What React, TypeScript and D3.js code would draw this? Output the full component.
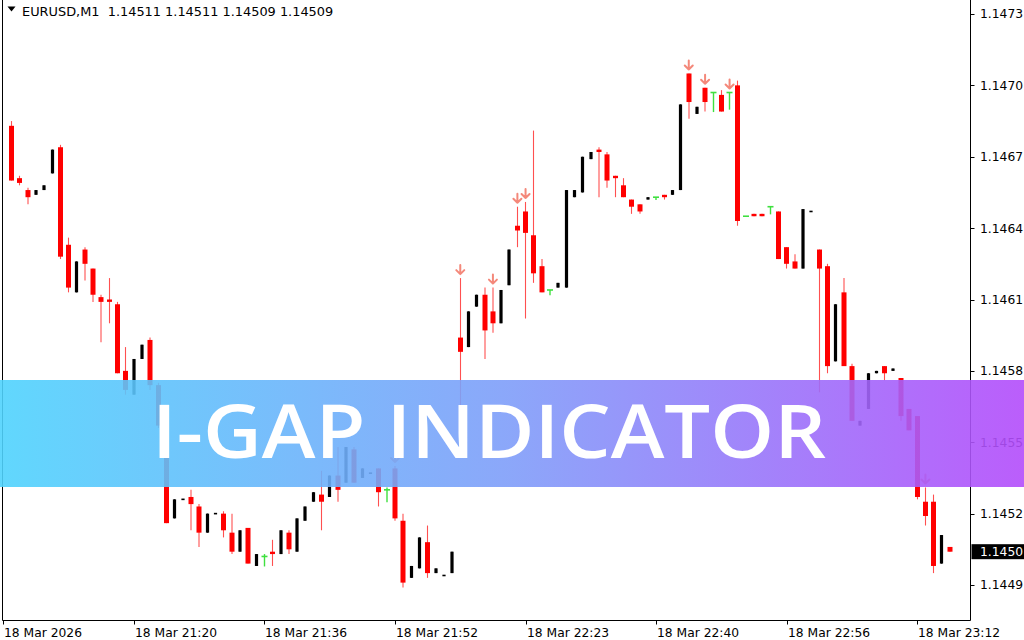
import React from "react";
import * as d3 from "d3";

// ---- data (bars 1..116, M1 EURUSD) ----
const opens = [
  1.14688, 1.14666, 1.14661, 1.14659, 1.14661, 1.14668, 1.14679, 1.14638, 1.14618, 1.14636,
  1.14628, 1.14616, 1.14615, 1.14613, 1.14585, 1.14575, 1.1459, 1.14598, 1.14579, 1.14563,
  1.14523, 1.14531, 1.14532, 1.14528, 1.14517, 1.14525, 1.14525, 1.14517, 1.14509, 1.14519,
  1.14503, 1.14507, 1.14509, 1.14508, 1.14517, 1.14509, 1.14522, 1.1453, 1.14533, 1.14532,
  1.14541, 1.14538, 1.14552, 1.1454, 1.14542, 1.14544, 1.14535, 1.14544, 1.14522, 1.14498,
  1.14502, 1.14513, 1.145, 1.14499, 1.145, 1.14599, 1.14595, 1.14612, 1.14617, 1.1461,
  1.14605, 1.14621, 1.14646, 1.14652, 1.14642, 1.14629, 1.14619, 1.1462, 1.1462, 1.14658,
  1.1466, 1.14674, 1.14678, 1.14676, 1.14667, 1.14663, 1.14657, 1.14655, 1.14657, 1.14658,
  1.14659, 1.14659, 1.14661, 1.1471, 1.14693, 1.14704, 1.14702, 1.14701, 1.14702, 1.14705,
  1.1465, 1.14651, 1.14651, 1.14654, 1.14652, 1.14637, 1.14631, 1.14628, 1.14652, 1.14636,
  1.14629, 1.14589, 1.14618, 1.14587, 1.14562, 1.14569, 1.14584, 1.14587, 1.14585, 1.14582,
  1.14569, 1.14566, 1.1453, 1.1453, 1.14504, 1.14511,
];
const highs = [
  1.1469, 1.14667, 1.14662, 1.14661, 1.14663, 1.14678, 1.1468, 1.14641, 1.14631, 1.14637,
  1.14628, 1.14617, 1.14624, 1.14614, 1.14595, 1.1459, 1.14596, 1.14599, 1.1458, 1.14564,
  1.14531, 1.14531, 1.14535, 1.14529, 1.14525, 1.14525, 1.14526, 1.14525, 1.14518, 1.14519,
  1.14508, 1.14508, 1.14514, 1.14518, 1.14518, 1.14523, 1.14528, 1.14534, 1.14543, 1.14541,
  1.14553, 1.14553, 1.14553, 1.14544, 1.14542, 1.14544, 1.14536, 1.14545, 1.14525, 1.14503,
  1.14515, 1.1452, 1.14502, 1.14499, 1.14509, 1.14624, 1.1461, 1.14617, 1.1462, 1.1462,
  1.14619, 1.14636, 1.14654, 1.14656, 1.14686, 1.14632, 1.14619, 1.14622, 1.14661, 1.14661,
  1.14675, 1.14677, 1.14679, 1.14677, 1.14667, 1.14666, 1.14657, 1.14655, 1.14658, 1.14658,
  1.14659, 1.14661, 1.14697, 1.1471, 1.14696, 1.14704, 1.14702, 1.14703, 1.14702, 1.14707,
  1.1465, 1.14651, 1.14651, 1.14654, 1.14652, 1.14637, 1.14634, 1.14653, 1.14652, 1.14636,
  1.1463, 1.14613, 1.14624, 1.14588, 1.14564, 1.14584, 1.14585, 1.14587, 1.14586, 1.14582,
  1.14569, 1.14566, 1.14536, 1.14533, 1.14516, 1.14511,
];
const lows = [
  1.14665, 1.14663, 1.14655, 1.14659, 1.14661, 1.14668, 1.14632, 1.14618, 1.14618, 1.14623,
  1.14614, 1.14597, 1.14605, 1.14584, 1.14575, 1.14575, 1.1459, 1.14577, 1.14561, 1.14521,
  1.14523, 1.14531, 1.14518, 1.14511, 1.14517, 1.14525, 1.14515, 1.14508, 1.14509, 1.14504,
  1.14503, 1.14503, 1.14503, 1.14508, 1.14508, 1.14509, 1.14522, 1.1453, 1.14518, 1.14532,
  1.1453, 1.14538, 1.14538, 1.1454, 1.14542, 1.14528, 1.1453, 1.14522, 1.14494, 1.14498,
  1.14502, 1.14498, 1.145, 1.14499, 1.145, 1.14558, 1.14595, 1.14612, 1.1459, 1.14601,
  1.14605, 1.14621, 1.14637, 1.14607, 1.14622, 1.14618, 1.14617, 1.1462, 1.1462, 1.14658,
  1.1466, 1.14674, 1.14658, 1.14662, 1.14658, 1.14658, 1.14651, 1.14651, 1.14657, 1.14657,
  1.14657, 1.14659, 1.14661, 1.14691, 1.14693, 1.14694, 1.14694, 1.14694, 1.14695, 1.14646,
  1.1465, 1.1465, 1.1465, 1.14651, 1.14632, 1.14628, 1.14628, 1.14628, 1.14652, 1.14576,
  1.14584, 1.14589, 1.14587, 1.14564, 1.14562, 1.14569, 1.14584, 1.14581, 1.14585, 1.14564,
  1.1456, 1.14531, 1.1452, 1.145, 1.14504, 1.14509,
];
const closes = [
  1.14665, 1.14664, 1.14658, 1.14661, 1.14663, 1.14678, 1.14633, 1.1462, 1.14631, 1.1463,
  1.14617, 1.14614, 1.14614, 1.14584, 1.14577, 1.1459, 1.14596, 1.14579, 1.14562, 1.14521,
  1.14531, 1.14531, 1.14529, 1.14517, 1.14525, 1.14525, 1.14518, 1.14509, 1.14518, 1.14504,
  1.14508, 1.14507, 1.14508, 1.14518, 1.1451, 1.14523, 1.14528, 1.14534, 1.1453, 1.14541,
  1.14535, 1.14553, 1.14538, 1.14544, 1.14542, 1.14534, 1.14535, 1.14523, 1.14496, 1.14503,
  1.14515, 1.145, 1.14502, 1.14499, 1.14509, 1.14593, 1.1461, 1.14617, 1.14602, 1.14605,
  1.14619, 1.14636, 1.14644, 1.14643, 1.14626, 1.14618, 1.14619, 1.14622, 1.14661, 1.14661,
  1.14675, 1.14677, 1.14677, 1.14665, 1.14666, 1.14658, 1.14654, 1.14652, 1.14658, 1.14658,
  1.14658, 1.14661, 1.14697, 1.14698, 1.14696, 1.14698, 1.14702, 1.14694, 1.14702, 1.14648,
  1.1465, 1.1465, 1.1465, 1.14654, 1.14632, 1.1463, 1.14628, 1.14653, 1.14652, 1.14628,
  1.14587, 1.14613, 1.14587, 1.14564, 1.14564, 1.14584, 1.14585, 1.14584, 1.14586, 1.14566,
  1.1456, 1.14532, 1.14524, 1.14503, 1.14516, 1.14509,
];
const firstBar = 1;
const lastBarSlot = 116;

const greenSignalBars = [32, 47, 67, 80, 87, 89, 91, 94];
const sellArrowBars = [48, 56, 60, 63, 64, 84, 86, 89, 113];

const timeLabelBars = [0, 16, 32, 48, 64, 80, 96, 112];
const timeLabels = [
  "18 Mar 2026", "18 Mar 21:20", "18 Mar 21:36", "18 Mar 21:52",
  "18 Mar 22:23", "18 Mar 22:40", "18 Mar 22:56", "18 Mar 23:12",
];
const priceTicks = [1.14495, 1.14525, 1.14555, 1.14585, 1.14615, 1.14645, 1.14675, 1.14705, 1.14735];
const priceTickLabels = ["1.1449", "1.1452", "1.1455", "1.1458", "1.1461", "1.1464", "1.1467", "1.1470", "1.1473"];

const symbolName = "EURUSD,M1";
const headerValues = ["1.14511", "1.14511", "1.14509", "1.14509"];
const currentPrice = 1.14509;
const currentPriceLabel = "1.1450";
const bannerTitle = "I-GAP INDICATOR";

const FONT = "'DejaVu Sans', Tahoma, sans-serif";

export default function App() {
  const W = 1024;
  const H = 640;
  const plotRight = 970.5;
  const plotBottom = 620.5;
  const x = d3.scaleLinear().domain([0, lastBarSlot]).range([3.3, 949.9]);
  const y = d3.scaleLinear().domain([1.14495, 1.14735]).range([585, 14]);

  const bars = opens.map((o, k) => ({
    i: k + firstBar,
    o,
    h: highs[k],
    l: lows[k],
    c: closes[k],
  }));

  const red = "#ff0000";
  const green = "#3fe03f";
  const salmon = "#f4887a";

  return (
    <svg
      width={W}
      height={H}
      viewBox={`0 0 ${W} ${H}`}
      style={{ position: "absolute", left: 0, top: 0, background: "#fff" }}
      fontFamily={FONT}
    >
      <defs>
        <linearGradient id="bannerGrad" x1="0" y1="0" x2="1" y2="0">
          <stop offset="0" stopColor="#4fd3fd" />
          <stop offset="0.5" stopColor="#7f9df9" />
          <stop offset="1" stopColor="#b34cfb" />
        </linearGradient>
      </defs>
      <rect x={0} y={0} width={W} height={H} fill="#fff" />

      {/* candles */}
      <g>
        {bars.map((b) => {
          const cx = Math.round(x(b.i) * 2) / 2;
          const isGreen = greenSignalBars.includes(b.i);
          if (isGreen) {
            return (
              <g key={b.i}>
                <line x1={cx} x2={cx} y1={y(b.h)} y2={y(b.l) + 0.5} stroke={green} strokeWidth={1.4} />
                <line x1={cx - 3} x2={cx + 3} y1={y(b.o)} y2={y(b.o)} stroke={green} strokeWidth={1.6} />
              </g>
            );
          }
          if (b.c > b.o) {
            const top = y(b.c);
            const bot = y(b.o);
            return (
              <g key={b.i}>
                <line x1={cx} x2={cx} y1={y(b.h)} y2={y(b.l)} stroke="#000" strokeWidth={1} />
                <rect x={cx - 1.6} y={top} width={3.2} height={Math.max(1.5, bot - top)} fill="#000" />
              </g>
            );
          }
          if (b.c === b.o) {
            return (
              <g key={b.i}>
                {b.h > b.l && (
                  <line x1={cx} x2={cx} y1={y(b.h)} y2={y(b.l)} stroke="#000" strokeWidth={1} />
                )}
                <rect x={cx - 1.6} y={y(b.o) - 0.8} width={3.2} height={1.6} fill="#000" />
              </g>
            );
          }
          const top = y(b.o);
          const bot = y(b.c);
          return (
            <g key={b.i}>
              <line x1={cx} x2={cx} y1={y(b.h)} y2={y(b.l)} stroke="#ff5050" strokeWidth={1.1} />
              <rect x={cx - 2.5} y={top} width={5} height={Math.max(2, bot - top)} fill={red} />
            </g>
          );
        })}
      </g>

      {/* sell arrows above highs */}
      <g stroke={salmon} strokeWidth={2} fill="none" strokeLinecap="round" strokeLinejoin="round">
        {sellArrowBars.map((i) => {
          const b = bars[i - firstBar];
          const cx = x(i);
          const tip = y(b.h) - 4;
          const tail = tip - 9;
          return (
            <path key={i} d={`M${cx},${tail} L${cx},${tip} M${cx - 4},${tip - 4} L${cx},${tip} L${cx + 4},${tip - 4}`} />
          );
        })}
      </g>

      {/* axes frame */}
      <line x1={2.5} x2={2.5} y1={0} y2={plotBottom} stroke="#000" strokeWidth={1} />
      <line x1={2.5} x2={plotRight} y1={plotBottom} y2={plotBottom} stroke="#000" strokeWidth={1} />
      <line x1={plotRight} x2={plotRight} y1={0} y2={plotBottom} stroke="#000" strokeWidth={1} />

      {/* price axis */}
      <g fontSize={12.3} fill="#000">
        {priceTicks.map((p, k) => (
          <g key={k}>
            <line x1={plotRight} x2={plotRight + 4} y1={Math.round(y(p)) + 0.5} y2={Math.round(y(p)) + 0.5} stroke="#000" />
            <text x={980} y={y(p)} dy="0.36em">
              {priceTickLabels[k]}
            </text>
          </g>
        ))}
      </g>
      <rect x={plotRight + 1} y={y(currentPrice) - 7.5} width={W - plotRight - 1} height={15} fill="#000" />
      <text x={980} y={y(currentPrice)} dy="0.36em" fontSize={12.3} fill="#fff">
        {currentPriceLabel}
      </text>

      {/* time axis */}
      <g fontSize={12.3} fill="#000">
        {timeLabelBars.map((bi, k) => {
          const tx = Math.round(x(bi)) + 0.5;
          return (
            <g key={k}>
              <line x1={tx} x2={tx} y1={plotBottom} y2={plotBottom + 4} stroke="#000" />
              <text x={tx + 0.5} y={637}>
                {timeLabels[k]}
              </text>
            </g>
          );
        })}
      </g>

      {/* header */}
      <path d="M7.5,6.5 L15.5,6.5 L11.5,11.5 Z" fill="#000" />
      <text x={22} y={16} fontSize={12.9} fill="#000" style={{ whiteSpace: "pre" }}>
        {`${symbolName}  ${headerValues.join(" ")}`}
      </text>

      {/* banner */}
      <rect x={0} y={380} width={W} height={107} fill="url(#bannerGrad)" opacity={0.9} />
      <text
        x={152}
        y={458}
        fontFamily="'Open Sans', Lato, sans-serif"
        fontWeight={600}
        fontSize={74}
        fill="#fff"
        textLength={674}
        lengthAdjust="spacingAndGlyphs"
      >
        {bannerTitle}
      </text>
    </svg>
  );
}
